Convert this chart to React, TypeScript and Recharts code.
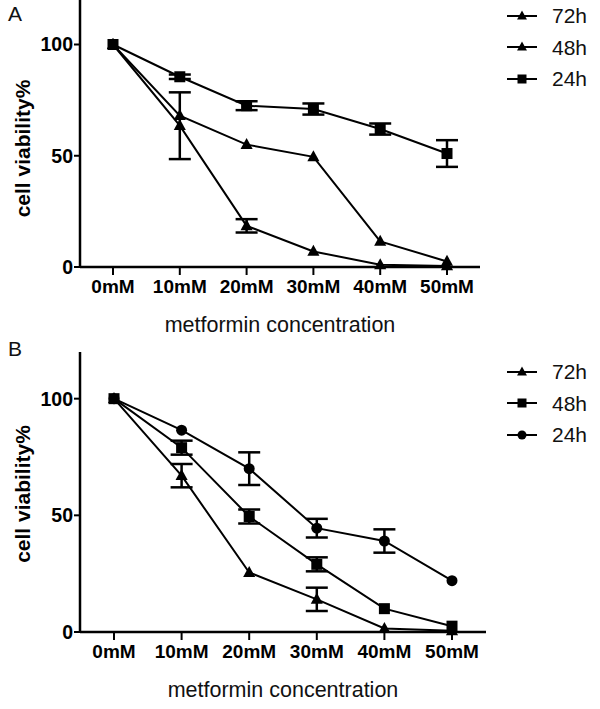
import React from 'react'
import { LineChart, Line, XAxis, YAxis, ErrorBar, Legend, Label } from 'recharts'

const concentrations = ['0mM', '10mM', '20mM', '30mM', '40mM', '50mM']
const yTicks = [0, 50, 100]

// panel A
const a72 = [100, 63.5, 18.5, 7, 1, 0.5]
const a72Err = [null, 15, 3, null, null, null]
const a48 = [100, 68, 55, 49.5, 11.5, 2.5]
const a48Err = [null, null, null, null, null, null]
const a24 = [100, 85.5, 72.5, 71, 62, 51]
const a24Err = [null, 1, 2, 2.5, 2.5, 6]

// panel B
const b72 = [100, 67, 25.5, 14, 1.5, 0.5]
const b72Err = [null, 5, null, 5, null, null]
const b48 = [100, 79, 49.5, 29, 10, 2.5]
const b48Err = [null, 3, 3, 3, null, null]
const b24 = [100, 86.5, 70, 44.5, 39, 22]
const b24Err = [null, null, 7, 4, 5, null]

const font = '"Liberation Sans", Arial, sans-serif'

type Shape = 'triangle' | 'square' | 'circle'
type Series = { key: string; err: string; name: string; shape: Shape }

const seriesA: Series[] = [
  { key: 'h72', err: 'e72', name: '72h', shape: 'triangle' },
  { key: 'h48', err: 'e48', name: '48h', shape: 'triangle' },
  { key: 'h24', err: 'e24', name: '24h', shape: 'square' },
]
const seriesB: Series[] = [
  { key: 'h72', err: 'e72', name: '72h', shape: 'triangle' },
  { key: 'h48', err: 'e48', name: '48h', shape: 'square' },
  { key: 'h24', err: 'e24', name: '24h', shape: 'circle' },
]

const buildRows = (v72: number[], e72: any[], v48: number[], e48: any[], v24: number[], e24: any[]) =>
  concentrations.map((conc, i) => ({
    conc,
    h72: v72[i],
    e72: e72[i],
    h48: v48[i],
    e48: e48[i],
    h24: v24[i],
    e24: e24[i],
  }))

const rowsA = buildRows(a72, a72Err, a48, a48Err, a24, a24Err)
const rowsB = buildRows(b72, b72Err, b48, b48Err, b24, b24Err)

function Marker({ cx, cy, shape, size = 5 }: { cx: number; cy: number; shape: Shape; size?: number }) {
  if (cx == null || cy == null) return null
  if (shape === 'square') {
    return <rect x={cx - size} y={cy - size} width={size * 2} height={size * 2} fill="#000" />
  }
  if (shape === 'circle') {
    return <circle cx={cx} cy={cy} r={size} fill="#000" />
  }
  return (
    <polygon
      points={`${cx},${cy - size * 1.2} ${cx + size * 1.1},${cy + size * 0.8} ${cx - size * 1.1},${cy + size * 0.8}`}
      fill="#000"
    />
  )
}

function LegendList({ series }: { series: Series[] }) {
  return (
    <div>
      {series.map((s) => (
        <div key={s.name} style={{ display: 'flex', alignItems: 'center', height: 31.5 }}>
          <svg width={34} height={16}>
            <line x1={2} x2={32} y1={8} y2={8} stroke="#000" strokeWidth={2} />
            <Marker cx={17} cy={8} shape={s.shape} size={4.5} />
          </svg>
          <span style={{ marginLeft: 13, fontSize: 21, fontFamily: font, color: '#111', lineHeight: 1 }}>{s.name}</span>
        </div>
      ))}
    </div>
  )
}

type PanelProps = {
  rows: any[]
  series: Series[]
  height: number
  margin: { top: number; right: number; bottom: number; left: number }
  letter: string
  letterTop: number
  legendTop: number
  yLabelShift: number
  pad: number
}

function Panel({ rows, series, height, margin, letter, letterTop, legendTop, yLabelShift, pad }: PanelProps) {
  return (
    <div style={{ position: 'relative', width: 600, height }}>
      <div
        style={{ position: 'absolute', left: 8, top: letterTop, fontSize: 21, fontFamily: font, color: '#111', zIndex: 2 }}
      >
        {letter}
      </div>
      <LineChart width={600} height={height} data={rows} margin={margin}>
        <XAxis
          dataKey="conc"
          type="category"
          interval={0}
          padding={{ left: pad, right: pad }}
          height={60}
          tickSize={8}
          tickMargin={5}
          axisLine={{ stroke: '#000', strokeWidth: 2.5 }}
          tickLine={{ stroke: '#000', strokeWidth: 2 }}
          tick={{ fill: '#000', fontSize: 19, fontWeight: 700, fontFamily: font }}
        >
          <Label
            content={(p: any) => {
              const vb = p.viewBox || {}
              return (
                <text
                  x={vb.x + vb.width / 2}
                  y={vb.y + 58}
                  textAnchor="middle"
                  dominantBaseline="central"
                  fontSize={21.5}
                  fontFamily={font}
                  fill="#111"
                >
                  metformin concentration
                </text>
              )
            }}
          />
        </XAxis>
        <YAxis
          domain={[0, 120]}
          ticks={yTicks}
          width={80}
          tickSize={6}
          tickMargin={1}
          axisLine={{ stroke: '#000', strokeWidth: 2.5 }}
          tickLine={{ stroke: '#000', strokeWidth: 2 }}
          tick={{ fill: '#000', fontSize: 19.5, fontWeight: 700, fontFamily: font }}
        >
          <Label
            content={(p: any) => {
              const vb = p.viewBox || {}
              const cx = 22
              const cy = vb.y + vb.height / 2 + yLabelShift
              return (
                <text
                  x={cx}
                  y={cy}
                  transform={`rotate(-90, ${cx}, ${cy})`}
                  textAnchor="middle"
                  dominantBaseline="central"
                  fontSize={21}
                  fontWeight={700}
                  fontFamily={font}
                  fill="#000"
                >
                  cell viability%
                </text>
              )
            }}
          />
        </YAxis>
        <Legend
          layout="vertical"
          align="center"
          verticalAlign="middle"
          wrapperStyle={{ left: 505, top: legendTop, width: 95 }}
          content={() => <LegendList series={series} />}
        />
        {series.map((s) => (
          <Line
            key={s.key}
            dataKey={s.key}
            name={s.name}
            type="linear"
            stroke="#000"
            strokeWidth={2}
            isAnimationActive={false}
            dot={(p: any) => <Marker key={`${s.key}-${p.index}`} cx={p.cx} cy={p.cy} shape={s.shape} size={5.5} />}
            activeDot={false}
          >
            <ErrorBar dataKey={s.err} width={11} strokeWidth={2.5} stroke="#000" direction="y" />
          </Line>
        ))}
      </LineChart>
    </div>
  )
}

export default function App() {
  return (
    <div style={{ position: 'absolute', left: 0, top: 0, width: 600, height: 709, background: '#fff' }}>
      <Panel
        rows={rowsA}
        series={seriesA}
        height={345}
        margin={{ top: 0, right: 120, bottom: 18, left: 0 }}
        letter="A"
        letterTop={2}
        legendTop={0}
        yLabelShift={15}
        pad={33}
      />
      <Panel
        rows={rowsB}
        series={seriesB}
        height={364}
        margin={{ top: 7, right: 114, bottom: 17, left: 0 }}
        letter="B"
        letterTop={-8}
        legendTop={11}
        yLabelShift={2}
        pad={34}
      />
    </div>
  )
}
